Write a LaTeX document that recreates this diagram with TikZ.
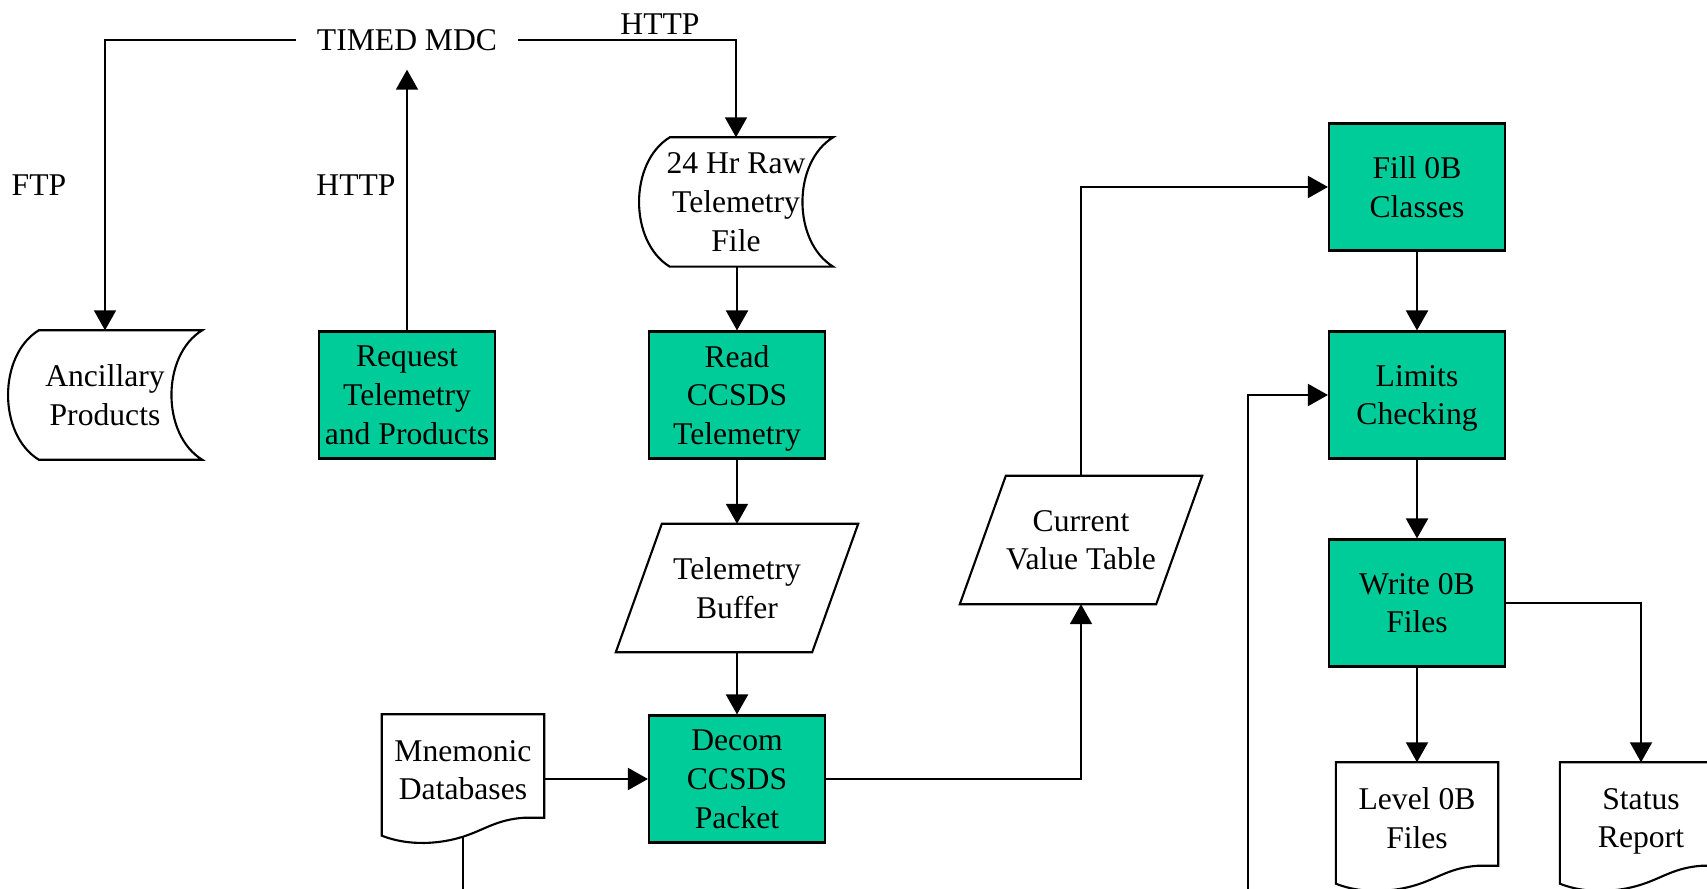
\documentclass[tikz,border=0pt]{standalone}
\usepackage{fontspec}
\setmainfont{Liberation Serif}
\usetikzlibrary{arrows.meta,calc}

\definecolor{procgreen}{RGB}{0,204,153}

\tikzset{
  boxtext/.style={align=center, inner sep=0pt, text depth=0pt},
  process/.style={boxtext, draw, fill=procgreen, line width=0.6pt, minimum width=17.6mm,
    minimum height=12.7mm},
  stored/.style={boxtext, minimum width=19.3mm, minimum height=12.8mm},
  document/.style={boxtext, minimum width=16.1mm, minimum height=11mm},
  iodata/.style={boxtext, minimum width=24.1mm, minimum height=12.7mm},
  link/.style={line width=0.55pt},
  flow/.style={link, -{Triangle[length=2mm,width=2.2mm]}},
}

% stored data: bulging left side, hollow right side
\newcommand{\storedoutline}[1]{%
  \draw[link, line width=0.6pt] (#1.north east)
    .. controls +(-41,25) and +(-41,-25) .. (#1.south east)
    -- ($(#1.south west)+(31,0)$)
    .. controls +(-41,-25) and +(-41,25) .. ($(#1.north west)+(31,0)$) -- cycle;}

% document: flat top, wavy bottom
\newcommand{\docoutline}[1]{%
  \draw[link, line width=0.6pt] (#1.north west) -- (#1.north east)
    -- ($(#1.south east)+(0,-8)$) -- ++(-20,0)
    .. controls +(-28,2) and +(22,-7) .. ($(#1.south)+(0,11)$)
    .. controls +(-22,7) and +(28,11) .. ($(#1.south west)+(0,10)$) -- cycle;}

% input/output data: parallelogram
\newcommand{\dataoutline}[1]{%
  \draw[link, line width=0.6pt] ($(#1.north west)+(46,0)$) -- (#1.north east)
    -- ($(#1.south east)+(-46,0)$) -- (#1.south west) -- cycle;}

\begin{document}
\begin{tikzpicture}[x=0.1mm, y=-0.1mm, every node/.style={font=\fontsize{9}{11}\selectfont}]
\useasboundingbox (0,0) rectangle (1707,889);
\clip (0,0) rectangle (1707,889);

% Data center and its protocols
\node[inner xsep=2mm, inner ysep=0pt, minimum height=5.8mm] (mdc) at (407,40) {TIMED MDC};
\node (ftp) at (39,185) {FTP};
\node (httpreq) at (356,185) {HTTP};
\node (httpget) at (660,24) {HTTP};

% Left and middle columns
\node[stored] (anc) at (105,395) {Ancillary\\Products};
\node[process] (req) at (407,395) {Request\\Telemetry\\and Products};
\node[stored] (raw) at (736,202) {24 Hr Raw\\Telemetry\\File};
\node[process] (read) at (737,395) {Read\\CCSDS\\Telemetry};
\node[iodata] (buf) at (737,588) {Telemetry\\Buffer};
\node[process] (decom) at (737,779) {Decom\\CCSDS\\Packet};
\node[document] (mnem) at (463,770) {Mnemonic\\Databases};
\node[iodata] (cvt) at (1081,540) {Current\\Value Table};

% Level 0B column
\node[process] (fill) at (1417,187) {Fill 0B\\Classes};
\node[process] (limits) at (1417,395) {Limits\\Checking};
\node[process] (write) at (1417,603) {Write 0B\\Files};
\node[document] (lvl) at (1417,818) {Level 0B\\Files};
\node[document] (stat) at (1641,818) {Status\\Report};

\storedoutline{anc}
\storedoutline{raw}
\dataoutline{buf}
\dataoutline{cvt}
\docoutline{mnem}
\docoutline{lvl}
\docoutline{stat}

% Connections
\draw[flow] (mdc.west) -| (anc.north);
\draw[flow] (mdc.east) -| (raw.north);
\draw[flow] (req.north) -- (mdc.south);
\draw[flow] (raw.south -| read.north) -- (read.north);
\draw[flow] (read) -- (buf);
\draw[flow] (buf) -- (decom);
\draw[flow] (mnem.east |- decom.west) -- (decom.west);
\draw[flow] (decom.east) -| (cvt.south);
\draw[flow] (cvt.north) |- (fill.west);
\draw[flow] (fill) -- (limits);
\draw[flow] (limits) -- (write);
\draw[flow] (write) -- (lvl);
\draw[flow] (write.east) -| (stat.north);

% Lines running off the bottom edge
\coordinate (dbout) at (463,900);
\coordinate (chkin) at (1248,900);
\draw[link] ($(mnem.south)+(0,11)$) -- (dbout);
\draw[flow] (chkin) |- (limits.west);
\end{tikzpicture}
\end{document}
